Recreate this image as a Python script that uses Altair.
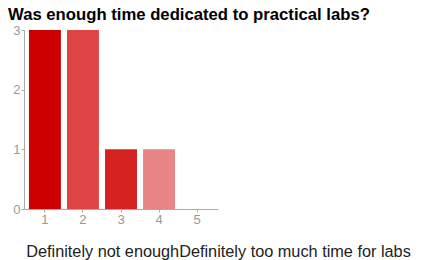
import altair as alt
import pandas as pd

categories = ["1", "2", "3", "4", "5"]
counts = [3, 3, 1, 1, 0]
colors = ["#cc0000", "#dd4545", "#d62121", "#e88585", "#f2b8b8"]

title_text = "Was enough time dedicated to practical labs?"
x_caption = "Definitely not enoughDefinitely too much time for labs"

df = pd.DataFrame({"answer": categories, "count": counts, "color": colors})

bars = alt.Chart(df).mark_bar().encode(
    x=alt.X(
        "answer:N",
        sort=categories,
        scale=alt.Scale(paddingInner=0.16, paddingOuter=0.13),
        axis=alt.Axis(
            title=x_caption,
            labelAngle=0,
            labelColor="#999999",
            labelFont="Liberation Sans",
            labelFontSize=13,
            labelPadding=1,
            tickColor="#aaaaaa",
            tickSize=3,
            domainColor="#aaaaaa",
            titleFont="Liberation Sans",
            titleFontSize=16.3,
            titleFontWeight="normal",
            titleColor="#222222",
            titleAlign="center",
            titleBaseline="alphabetic",
            titleX=194,
            titleY=47,
        ),
    ),
    y=alt.Y(
        "count:Q",
        scale=alt.Scale(domain=[0, 3], nice=False),
        axis=alt.Axis(
            title=None,
            values=[0, 1, 2, 3],
            format="d",
            grid=False,
            labelColor="#999999",
            labelFont="Liberation Sans",
            labelFontSize=13,
            labelPadding=1,
            tickColor="#aaaaaa",
            tickSize=3,
            domainColor="#aaaaaa",
        ),
    ),
    color=alt.Color("color:N", scale=None, legend=None),
).properties(
    width=194,
    height=179,
    title=alt.TitleParams(
        text=title_text,
        anchor="start",
        frame="group",
        font="Liberation Sans",
        fontSize=16.7,
        fontWeight="bold",
        color="#000000",
        dx=-16,
        dy=6,
        offset=6,
    ),
    autosize=alt.AutoSizeParams(type="none"),
    padding={"left": 16, "top": 22, "right": 195, "bottom": 52},
).configure_view(stroke=None)

chart = bars
chart.save("out.html", embed_options={"renderer": "svg", "actions": False})
